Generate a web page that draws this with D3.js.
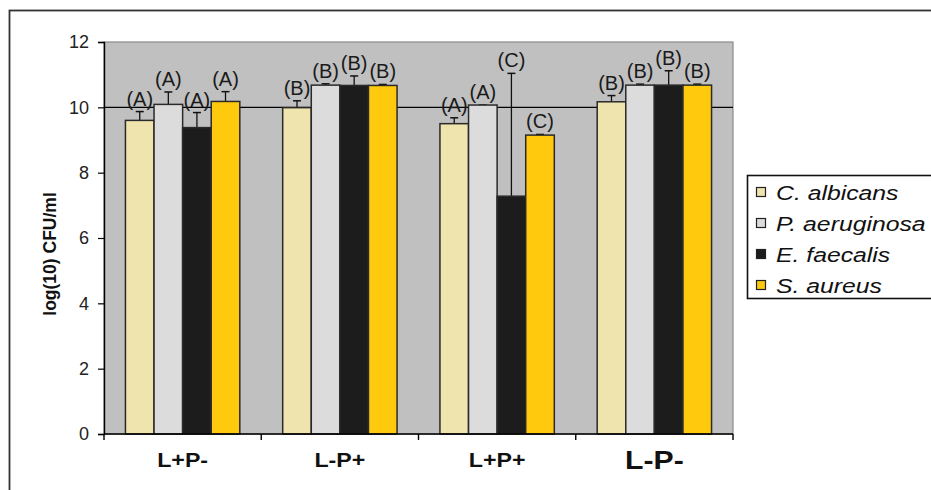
<!DOCTYPE html>
<html lang="en">
<head>
    <meta charset="UTF-8">
    <title>log(10) CFU/ml bar chart</title>
    <script src="https://cdn.jsdelivr.net/npm/d3@7/dist/d3.min.js"></script>
    <style>
        body { margin: 0; background: #fff; }
        text { font-family: Arial, "Liberation Sans", sans-serif; }
    </style>
</head>
<body>
<script type="application/javascript">

    let w = 931, h = 490;

    let categories = ['L+P-', 'L-P+', 'L+P+', 'L-P-'];
    let species = ['C. albicans', 'P. aeruginosa', 'E. faecalis', 'S. aureus'];
    let yTicks = [0, 2, 4, 6, 8, 10, 12];

    // mean values per species, one per category
    let cAlbicans   = [9.60, 9.99, 9.50, 10.17];
    let pAeruginosa = [10.09, 10.68, 10.07, 10.68];
    let eFaecalis   = [9.38, 10.67, 7.28, 10.68];
    let sAureus     = [10.18, 10.67, 9.15, 10.68];

    // upper error bars
    let cAlbicansErr   = [0.27, 0.21, 0.18, 0.19];
    let pAeruginosaErr = [0.38, 0.04, 0.00, 0.03];
    let eFaecalisErr   = [0.46, 0.29, 3.76, 0.44];
    let sAureusErr     = [0.30, 0.03, 0.02, 0.03];

    // significance letters
    let cAlbicansSig   = ['A', 'B', 'A', 'B'];
    let pAeruginosaSig = ['A', 'B', 'A', 'B'];
    let eFaecalisSig   = ['A', 'B', 'C', 'B'];
    let sAureusSig     = ['A', 'B', 'C', 'B'];

    let colors = ['#efe3ae', '#dcdcdc', '#1c1c1c', '#ffc90e'];

    let values = [cAlbicans, pAeruginosa, eFaecalis, sAureus];
    let errs = [cAlbicansErr, pAeruginosaErr, eFaecalisErr, sAureusErr];
    let sigs = [cAlbicansSig, pAeruginosaSig, eFaecalisSig, sAureusSig];

    let rows = [];
    categories.forEach((c, ci) => {
        species.forEach((s, si) => {
            rows.push({ cat: c, sp: s, si: si, v: values[si][ci], e: errs[si][ci], sig: sigs[si][ci] });
        });
    });

    let plot = { left: 104, right: 733, top: 42, bottom: 434 };

    let svg = d3.select('body')
        .append('svg')
        .attr('width', w)
        .attr('height', h);

    svg.append('rect').attr('width', w).attr('height', h).attr('fill', '#fff');

    // outer frame (runs off the right and bottom edges)
    svg.append('rect')
        .attr('x', 9.5).attr('y', 10.5)
        .attr('width', 960).attr('height', 520)
        .attr('fill', 'none').attr('stroke', '#333').attr('stroke-width', 1.8);

    let x0 = d3.scaleBand().domain(categories).range([plot.left, plot.right]);
    let x1 = d3.scaleBand().domain(species).range([0, x0.bandwidth()]).paddingOuter(0.75);
    let y = d3.scaleLinear().domain([0, 12]).range([plot.bottom, plot.top]);

    // plot area
    svg.append('rect')
        .attr('x', plot.left).attr('y', plot.top)
        .attr('width', plot.right - plot.left).attr('height', plot.bottom - plot.top)
        .attr('fill', '#c0c0c0').attr('stroke', '#8a8a8a').attr('stroke-width', 1.2);

    // gridline at 10
    svg.append('line')
        .attr('x1', plot.left).attr('x2', plot.right)
        .attr('y1', y(10)).attr('y2', y(10))
        .attr('stroke', '#000').attr('stroke-width', 1.2);

    // bars
    let bars = svg.selectAll('g.bar')
        .data(rows)
        .enter()
        .append('g')
        .attr('class', 'bar')
        .attr('transform', d => 'translate(' + (x0(d.cat) + x1(d.sp)) + ',0)');

    let bw = x1.bandwidth();

    bars.append('line')
        .attr('x1', bw / 2).attr('x2', bw / 2)
        .attr('y1', d => y(d.v)).attr('y2', d => y(d.v + d.e))
        .attr('stroke', '#111').attr('stroke-width', 1.3);
    bars.append('line')
        .attr('x1', bw / 2 - 4).attr('x2', bw / 2 + 4)
        .attr('y1', d => y(d.v + d.e)).attr('y2', d => y(d.v + d.e))
        .attr('stroke', '#111').attr('stroke-width', 1.5);

    bars.append('rect')
        .attr('y', d => y(d.v))
        .attr('width', bw)
        .attr('height', d => y(0) - y(d.v))
        .attr('fill', d => colors[d.si])
        .attr('stroke', '#2a2a2a').attr('stroke-width', 1.5);

    bars.append('text')
        .attr('x', bw / 2)
        .attr('y', d => y(d.v + d.e) - 6)
        .attr('text-anchor', 'middle')
        .attr('font-size', 20)
        .attr('fill', '#1a1a1a')
        .text(d => '(' + d.sig + ')');

    // axes
    let yAxis = svg.append('g')
        .attr('transform', 'translate(' + plot.left + ',0)')
        .call(d3.axisLeft(y).tickValues(yTicks).tickSize(6).tickPadding(9));
    yAxis.select('.domain').attr('stroke', '#000').attr('stroke-width', 1.4);
    yAxis.selectAll('.tick line').attr('stroke', '#000').attr('stroke-width', 1.2);
    yAxis.selectAll('.tick text')
        .attr('font-size', 18)
        .attr('fill', '#222')
        .style('font-family', 'Arial, "Liberation Sans", sans-serif');

    let xAxis = svg.append('g')
        .attr('transform', 'translate(0,' + plot.bottom + ')');
    xAxis.append('line')
        .attr('x1', plot.left).attr('x2', plot.right)
        .attr('stroke', '#000').attr('stroke-width', 1.4);
    xAxis.selectAll('line.tk')
        .data(categories.concat(['end']))
        .enter()
        .append('line')
        .attr('class', 'tk')
        .attr('x1', (d, i) => plot.left + i * x0.step())
        .attr('x2', (d, i) => plot.left + i * x0.step())
        .attr('y1', 0).attr('y2', 6)
        .attr('stroke', '#000').attr('stroke-width', 1.4);
    xAxis.selectAll('text')
        .data(categories)
        .enter()
        .append('text')
        .attr('transform', (d, i) => 'translate(' + (x0(d) + x0.bandwidth() / 2) + ',' + (i === 3 ? 35 : 33) + ') scale(1.16,1)')
        .attr('text-anchor', 'middle')
        .attr('font-weight', 'bold')
        .attr('font-size', (d, i) => i === 3 ? 26 : 20)
        .attr('fill', '#111')
        .text(d => d);

    // y axis title
    svg.append('text')
        .attr('transform', 'translate(56,254) rotate(-90)')
        .attr('text-anchor', 'middle')
        .attr('font-weight', 'bold')
        .attr('font-size', 17.5)
        .attr('fill', '#111')
        .text('log(10) CFU/ml');

    // legend
    let legend = svg.append('g').attr('transform', 'translate(747,175)');
    legend.append('rect')
        .attr('x', 0.5).attr('y', 0.5)
        .attr('width', 220).attr('height', 123)
        .attr('fill', '#fff').attr('stroke', '#111').attr('stroke-width', 1.6);

    let items = legend.selectAll('g.item')
        .data(species)
        .enter()
        .append('g')
        .attr('class', 'item')
        .attr('transform', (d, i) => 'translate(0,' + (17 + i * 31) + ')');
    items.append('rect')
        .attr('x', 9.5).attr('y', -4.5)
        .attr('width', 9).attr('height', 9)
        .attr('fill', (d, i) => colors[i])
        .attr('stroke', '#222').attr('stroke-width', 1.2);
    items.append('text')
        .attr('transform', 'translate(29,8) scale(1.18,1)')
        .attr('font-size', 21)
        .attr('font-style', 'italic')
        .attr('fill', '#111')
        .text(d => d);

</script>
</body>
</html>
